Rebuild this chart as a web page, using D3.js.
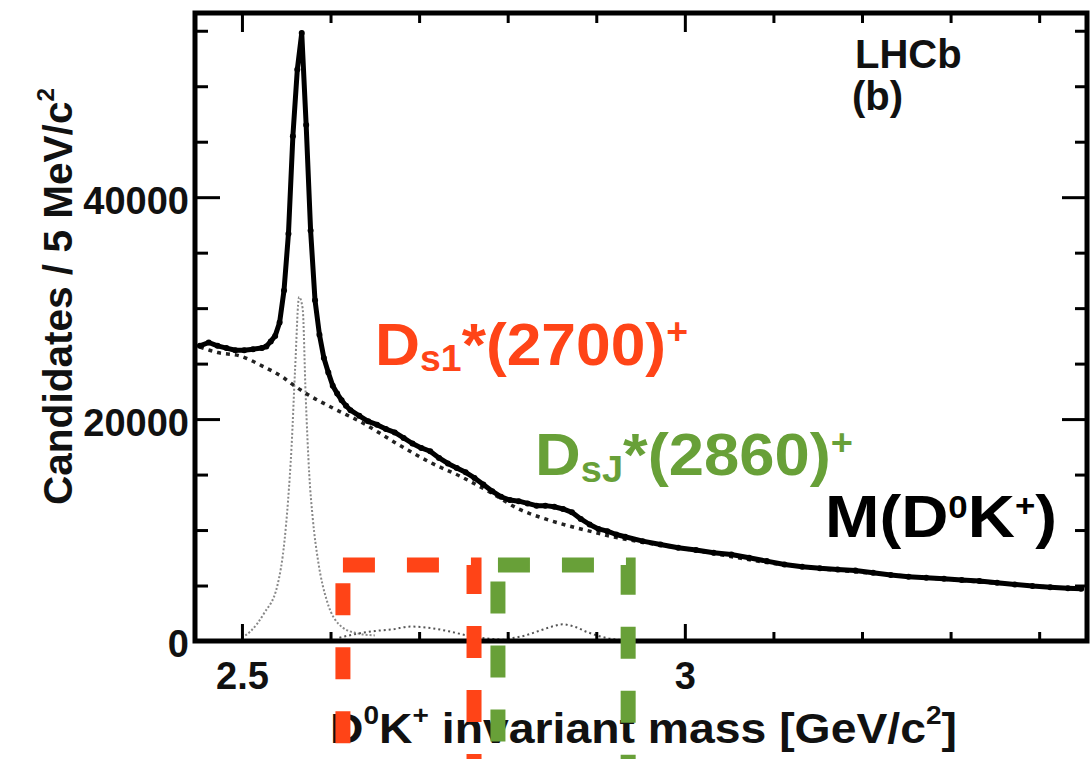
<!DOCTYPE html>
<html>
<head>
<meta charset="utf-8">
<script src="https://cdn.jsdelivr.net/npm/d3@7"></script>
<style>
  html, body { margin: 0; padding: 0; background: #fff; }
  svg { display: block; font-family: "Liberation Sans", Arial, Helvetica, sans-serif; font-weight: bold; }
</style>
</head>
<body>
<svg id="chart" width="1092" height="759"></svg>
<script>
// Data points (bin centres in GeV/c2, candidates per 5 MeV/c2)
const massData = [
  2.4525, 2.4625, 2.4725, 2.4825, 2.4925, 2.5025, 2.5125, 2.5225, 2.5275, 2.5325,
  2.5375, 2.5425, 2.5475, 2.5525, 2.5575, 2.5625, 2.5675, 2.5725, 2.5775, 2.5825,
  2.5875, 2.5925, 2.5975, 2.6025, 2.6075, 2.6125, 2.6175, 2.6225, 2.6325, 2.6425,
  2.6525, 2.6625, 2.6725, 2.6825, 2.6925, 2.7025, 2.7125, 2.7225, 2.7325, 2.7425,
  2.7525, 2.7625, 2.7725, 2.7825, 2.7925, 2.8025, 2.8125, 2.8225, 2.8325, 2.8425,
  2.8525, 2.8625, 2.8725, 2.8825, 2.8925, 2.9025, 2.9125, 2.9225, 2.9325, 2.9525,
  2.9725, 2.9925, 3.0125, 3.0325, 3.0525, 3.0725, 3.0925, 3.1125, 3.1325, 3.1525,
  3.1725, 3.1925, 3.2125, 3.2325, 3.2525, 3.2725, 3.2925, 3.3125, 3.3325, 3.3525,
  3.3725, 3.3925, 3.4125, 3.4325, 3.4475
];
const countData = [
  26600, 26900, 26600, 26400, 26200, 26200, 26300, 26400, 26550, 27000,
  27500, 28700, 31600, 36700, 45500, 51500, 54800, 46500, 37000, 30700,
  27600, 25500, 24200, 23000, 22300, 21700, 21200, 20800, 20300, 19800,
  19500, 19100, 18800, 18300, 17800, 17400, 17100, 16500, 16000, 15600,
  15200, 14700, 14100, 13500, 13000, 12700, 12600, 12400, 12200, 12200,
  12100, 11900, 11600, 11000, 10500, 10100, 9900, 9600, 9400, 9000,
  8700, 8400, 8200, 7950, 7800, 7500, 7200, 6900, 6700, 6550,
  6450, 6350, 6150, 5950, 5800, 5700, 5600, 5500, 5400, 5250,
  5100, 4950, 4850, 4750, 4700
];

// Background fit (dotted)
const massBkg = [
  2.4525, 2.4725, 2.4975, 2.5225, 2.5475, 2.5575, 2.5725, 2.6025, 2.6375, 2.6725,
  2.7125, 2.7475, 2.7825, 2.8125, 2.8425, 2.8725, 2.8925, 2.9125, 2.9525, 3.0125,
  3.1125, 3.2125, 3.3125, 3.4475
];
const countBkg = [
  26500, 26000, 25700, 24800, 23700, 23100, 22300, 21000, 19600, 17900,
  16100, 14800, 13300, 11900, 11000, 10300, 9900, 9500, 8900, 8150,
  6850, 6100, 5450, 4650
];

// Signal components (grey dotted)
const massSig2573 = [
  2.500, 2.510, 2.525, 2.540, 2.548, 2.552, 2.556, 2.560, 2.5645, 2.5685,
  2.572, 2.576, 2.580, 2.586, 2.596, 2.614, 2.630, 2.650
];
const countSig2573 = [
  300, 900, 2500, 5000, 9000, 12600, 17500, 24500, 31000, 30000,
  22000, 15000, 11000, 7200, 3600, 1200, 700, 500
];
const massSig2700 = [2.610, 2.630, 2.650, 2.670, 2.690, 2.710, 2.735, 2.757, 2.780, 2.800];
const countSig2700 = [300, 650, 900, 1050, 1300, 1200, 850, 450, 200, 100];
const massSig2860 = [2.800, 2.820, 2.835, 2.850, 2.862, 2.875, 2.890, 2.905, 2.920, 2.940];
const countSig2860 = [200, 500, 900, 1300, 1500, 1300, 800, 400, 150, 50];

// Axis ticks
const xMajorTicks = [2.5, 3.0];
const xMinorTicks = [2.6, 2.7, 2.8, 2.9, 3.1, 3.2, 3.3, 3.4];
const yMajorTicks = [0, 20000, 40000];
const yMinorTicks = [5000, 10000, 15000, 25000, 30000, 35000, 45000, 50000, 55000];

// Highlighted mass windows
const boxWindows = [[2.614, 2.762], [2.789, 2.936]];
const boxTopCount = 6850;

const RED = "#FF4417";
const GREEN = "#68A038";

const svg = d3.select("#chart");
const frame = { left: 195, top: 13, right: 1087, bottom: 641 };

const x = d3.scaleLinear().domain([2.447, 3.454]).range([frame.left, frame.right]);
const y = d3.scaleLinear().domain([0, 56600]).range([frame.bottom, frame.top]);

svg.append("defs").append("clipPath").attr("id", "plot-clip")
  .append("rect")
  .attr("x", frame.left).attr("y", frame.top)
  .attr("width", frame.right - frame.left).attr("height", frame.bottom - frame.top);

const plot = svg.append("g").attr("clip-path", "url(#plot-clip)");

function zipPts(ms, cs) { return ms.map((m, i) => [m, cs[i]]); }

const smooth = d3.line().x(d => x(d[0])).y(d => y(d[1])).curve(d3.curveMonotoneX);
const straight = d3.line().x(d => x(d[0])).y(d => y(d[1]));

// Signal shapes
plot.append("path").datum(zipPts(massSig2573, countSig2573))
  .attr("d", smooth).attr("fill", "none")
  .attr("stroke", "#888").attr("stroke-width", 2).attr("stroke-dasharray", "2,2");
plot.append("path").datum(zipPts(massSig2700, countSig2700))
  .attr("d", smooth).attr("fill", "none")
  .attr("stroke", "#555").attr("stroke-width", 2).attr("stroke-dasharray", "2,3");
plot.append("path").datum(zipPts(massSig2860, countSig2860))
  .attr("d", smooth).attr("fill", "none")
  .attr("stroke", "#555").attr("stroke-width", 2).attr("stroke-dasharray", "2,3");

// Background
plot.append("path").datum(zipPts(massBkg, countBkg))
  .attr("d", smooth).attr("fill", "none")
  .attr("stroke", "#222").attr("stroke-width", 3.5).attr("stroke-dasharray", "4,5");

// Data
const dataPts = zipPts(massData, countData);
plot.append("path").datum(dataPts)
  .attr("d", straight).attr("fill", "none")
  .attr("stroke", "#000").attr("stroke-width", 5).attr("stroke-linejoin", "round");
plot.selectAll("circle.pt").data(dataPts).enter().append("circle")
  .attr("class", "pt")
  .attr("cx", d => x(d[0])).attr("cy", d => y(d[1]))
  .attr("r", 3).attr("fill", "#000");

// Frame
svg.append("rect")
  .attr("x", frame.left).attr("y", frame.top)
  .attr("width", frame.right - frame.left).attr("height", frame.bottom - frame.top)
  .attr("fill", "none").attr("stroke", "#000").attr("stroke-width", 5);

// Axes (ticks point inwards)
function addAxis(axisFn, scale, values, size, transform, withLabels, fmt, pad) {
  const g = svg.append("g").attr("transform", transform)
    .call(axisFn(scale).tickValues(values).tickSize(size).tickPadding(pad || 0)
      .tickFormat(withLabels ? fmt : ""));
  g.attr("font-size", null).attr("font-family", null);
  g.select(".domain").remove();
  g.selectAll(".tick line").attr("stroke", "#000").attr("stroke-width", 3);
  g.selectAll(".tick text").attr("fill", "#111").style("font-size", "38px").style("font-weight", "bold");
  return g;
}
const fmtX = d3.format("~g");
const fmtY = d3.format("d");

addAxis(d3.axisBottom, x, xMinorTicks, -9, `translate(0,${frame.bottom})`, false);
addAxis(d3.axisBottom, x, xMajorTicks, -17, `translate(0,${frame.bottom})`, true, fmtX, 21);
addAxis(d3.axisTop, x, xMinorTicks, -10, `translate(0,${frame.top})`, false);
addAxis(d3.axisTop, x, xMajorTicks, -19, `translate(0,${frame.top})`, false);
addAxis(d3.axisLeft, y, yMinorTicks, -13, `translate(${frame.left},0)`, false);
addAxis(d3.axisLeft, y, yMajorTicks, -25, `translate(${frame.left},0)`, true, fmtY, 6)
  .selectAll(".tick text").attr("dy", "0.42em");
addAxis(d3.axisRight, y, yMinorTicks, -12, `translate(${frame.right},0)`, false);
addAxis(d3.axisRight, y, yMajorTicks, -25, `translate(${frame.right},0)`, false);

// Rich text helper: parts with optional sub/sup shifts
function richText(parent, x0, y0, parts, size, color, length) {
  const t = parent.append("text")
    .attr("x", x0).attr("y", y0)
    .attr("fill", color).style("font-size", size + "px").style("font-weight", "bold");
  let cur = 0;
  parts.forEach(p => {
    const shift = p.shift || 0;
    t.append("tspan")
      .attr("dy", shift - cur)
      .style("font-size", (p.size || size) + "px")
      .text(p.t);
    cur = shift;
  });
  if (length) t.attr("textLength", length).attr("lengthAdjust", "spacingAndGlyphs");
  return t;
}

// Axis titles
richText(svg, 330, 743, [
  { t: "D" }, { t: "0", size: 26, shift: -19 }, { t: "K" }, { t: "+", size: 26, shift: -19 },
  { t: " invariant mass [GeV/c" }, { t: "2", size: 26, shift: -19 }, { t: "]" }
], 43, "#111", 627);

const yTitle = svg.append("g").attr("transform", "translate(72,505) rotate(-90)");
richText(yTitle, 0, 0, [
  { t: "Candidates / 5 MeV/c" }, { t: "2", size: 24, shift: -18 }
], 40, "#111", 417);

// Experiment label
richText(svg, 855, 68, [{ t: "LHCb" }], 40, "#111");
richText(svg, 852, 110, [{ t: "(b)" }], 40, "#111");

// State labels
richText(svg, 375, 365, [
  { t: "D" }, { t: "s1", size: 36, shift: 6 }, { t: "*(2700)" }, { t: "+", size: 36, shift: -21 }
], 60, RED, 313);
richText(svg, 535, 475, [
  { t: "D" }, { t: "sJ", size: 36, shift: 7 }, { t: "*(2860)" }, { t: "+", size: 36, shift: -20 }
], 60, GREEN, 318);
richText(svg, 825, 537, [
  { t: "M(D" }, { t: "0", size: 32, shift: -19 }, { t: "K" }, { t: "+", size: 32, shift: -21 }, { t: ")" }
], 60, "#000", 232);

// Dashed mass windows drawn on top
const boxColors = [RED, GREEN];
svg.selectAll("rect.window").data(boxWindows).enter().append("rect")
  .attr("class", "window")
  .attr("x", d => x(d[0]))
  .attr("y", y(boxTopCount))
  .attr("width", d => x(d[1]) - x(d[0]))
  .attr("height", 214)
  .attr("fill", "none")
  .attr("stroke", (d, i) => boxColors[i])
  .attr("stroke-width", 15)
  .attr("stroke-dasharray", "32,32");
</script>
</body>
</html>
